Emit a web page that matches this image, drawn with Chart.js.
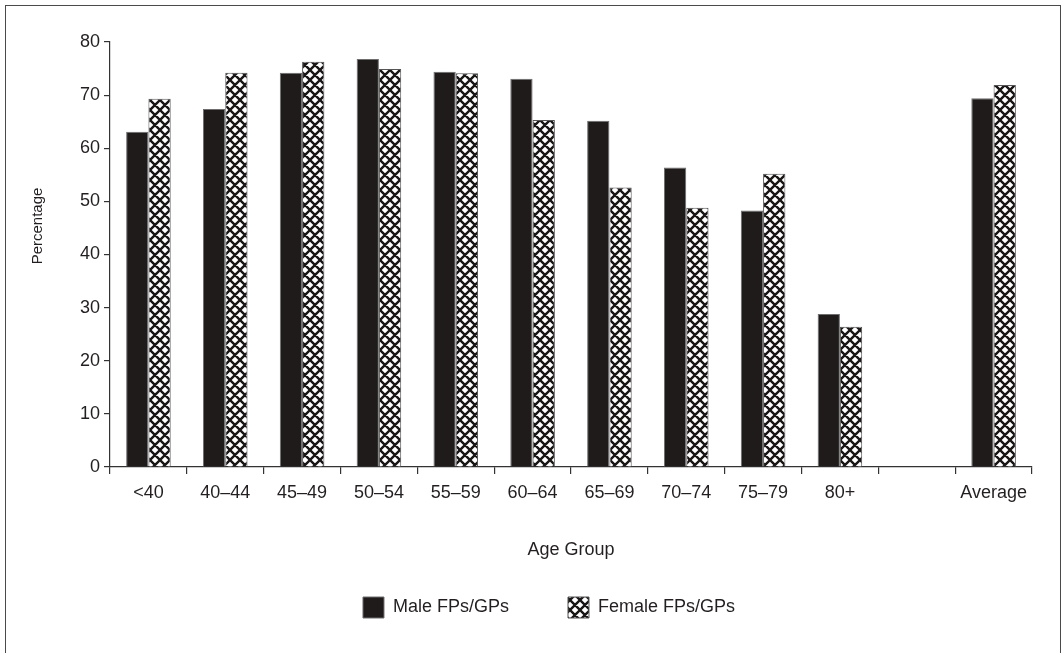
<!DOCTYPE html>
<html>
<head>
<meta charset="utf-8">
<script src="https://cdn.jsdelivr.net/npm/chart.js@4.4.1/dist/chart.umd.min.js"></script>
<style>
  html, body { margin: 0; padding: 0; background: #fff; overflow: hidden; }
  #wrap { position: relative; width: 1063px; height: 653px; }
  #frame { position: absolute; left: 5px; top: 5px; width: 1056px; height: 660px; border: 1px solid #4a4a4a; box-sizing: border-box; }
  canvas { position: absolute; left: 0; top: 0; }
</style>
</head>
<body>
<div id="wrap">
  <div id="frame"></div>
  <canvas id="chart" width="1063" height="653"></canvas>
</div>
<script>
// Age groups (the empty slot separates the groups from the overall average)
const ageGroups = ['<40', '40–44', '45–49', '50–54', '55–59', '60–64', '65–69', '70–74', '75–79', '80+', '', 'Average'];
// Percentage per age group
const maleValues   = [63.1, 67.4, 74.2, 76.8, 74.4, 73.1, 65.2, 56.4, 48.3, 28.8, null, 69.4];
const femaleValues = [69.3, 74.2, 76.3, 74.9, 74.1, 65.3, 52.6, 48.8, 55.2, 26.4, null, 71.9];
const yTicks = [0, 10, 20, 30, 40, 50, 60, 70, 80];
const yTitle = 'Percentage';

const FONT = '"Liberation Sans", Arial, sans-serif';
const INK = '#231f20';

// Cross-hatch fill for the female series
function crossHatch() {
  const s = 10;
  const c = document.createElement('canvas');
  c.width = s; c.height = s;
  const g = c.getContext('2d');
  g.fillStyle = '#fff';
  g.fillRect(0, 0, s, s);
  g.strokeStyle = '#1a1616';
  g.lineWidth = 2.4;
  g.beginPath();
  for (const k of [-s, 0, s]) {
    g.moveTo(k - 2, -2); g.lineTo(k + s + 2, s + 2);
    g.moveTo(k - 2, s + 2); g.lineTo(k + s + 2, -2);
  }
  g.stroke();
  return g.createPattern(c, 'repeat');
}
const hatch = crossHatch();

// Places the legend row below the axis title
const legendPlacement = {
  id: 'legendPlacement',
  afterLayout(chart) {
    const lg = chart.legend;
    if (!lg) return;
    const dx = 33, dy = 538 - lg.top;
    lg.left += dx; lg.right += dx;
    lg.top += dy; lg.bottom += dy;
  }
};

// Rotated y-axis caption, set a little above the axis middle
const yCaption = {
  id: 'yCaption',
  afterDraw(chart) {
    const ctx = chart.ctx;
    ctx.save();
    ctx.translate(38, 226);
    ctx.rotate(-Math.PI / 2);
    ctx.font = '15px ' + FONT;
    ctx.fillStyle = INK;
    ctx.textAlign = 'center';
    ctx.textBaseline = 'middle';
    ctx.fillText(yTitle, 0, 0);
    ctx.restore();
  }
};

new Chart(document.getElementById('chart'), {
  type: 'bar',
  data: {
    labels: ageGroups,
    datasets: [
      {
        label: 'Male FPs/GPs',
        data: maleValues,
        backgroundColor: '#1f1b1b',
        borderColor: '#6e6e6e',
        borderWidth: 1,
        categoryPercentage: 0.58,
        barPercentage: 1
      },
      {
        label: 'Female FPs/GPs',
        data: femaleValues,
        backgroundColor: hatch,
        borderColor: '#555',
        borderWidth: 1,
        categoryPercentage: 0.58,
        barPercentage: 1
      }
    ]
  },
  plugins: [legendPlacement, yCaption],
  options: {
    responsive: false,
    animation: false,
    layout: { padding: { top: 42, right: 31, bottom: 0, left: 0 } },
    plugins: {
      tooltip: { enabled: false },
      legend: {
        position: 'bottom',
        labels: {
          color: INK,
          font: { family: FONT, size: 18 },
          boxWidth: 21,
          boxHeight: 21,
          padding: 59
        }
      }
    },
    scales: {
      x: {
        offset: true,
        afterFit: s => { s.height = 96; },
        grid: { display: true, offset: true, drawOnChartArea: false, drawTicks: true, tickLength: 7, color: '#333', lineWidth: 1.2 },
        border: { display: true, color: '#333', width: 1.2 },
        ticks: { color: INK, font: { family: FONT, size: 18 }, padding: 8, maxRotation: 0, autoSkip: false },
        title: { display: true, text: 'Age Group', color: INK, font: { family: FONT, size: 18 }, padding: { top: 20, bottom: 2 } }
      },
      y: {
        min: 0,
        max: 80,
        afterFit: s => { s.width = 110; },
        afterBuildTicks: s => { s.ticks = yTicks.map(v => ({ value: v })); },
        grid: { display: true, drawOnChartArea: false, drawTicks: true, tickLength: 6, color: '#333', lineWidth: 1.2 },
        border: { display: true, color: '#333', width: 1.2 },
        ticks: { color: INK, font: { family: FONT, size: 18 }, padding: 4 },
        title: { display: false }
      }
    }
  }
});
</script>
</body>
</html>
